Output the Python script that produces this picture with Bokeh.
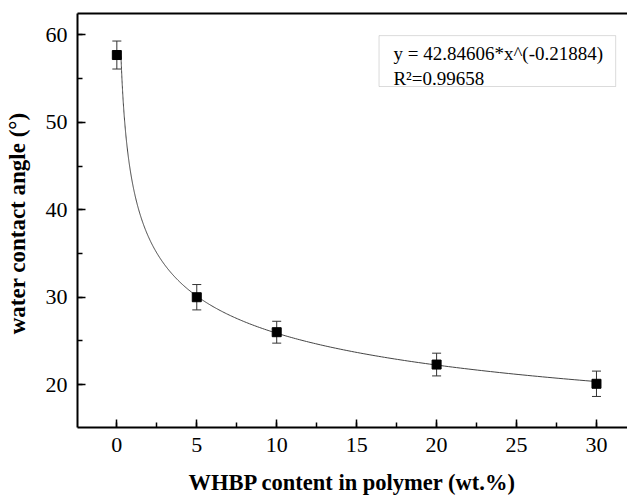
import numpy as np
from bokeh.plotting import figure
from bokeh.models import (ColumnDataSource, Whisker, TeeHead, LinearAxis, FixedTicker,
                          Range1d, BoxAnnotation, Label, SingleIntervalTicker)
from bokeh.embed import file_html
from bokeh.resources import INLINE

# ---- data ----
content = [0, 5, 10, 20, 30]             # WHBP content (wt.%)
angle = [57.7, 30.0, 26.0, 22.3, 20.1]   # water contact angle (deg)
err = [1.6, 1.45, 1.25, 1.3, 1.45]       # error bar half-heights
fit_a = 42.84606                          # fit: y = a * x^b
fit_b = -0.21884
fit_r2 = "0.99658"
fit_x_start = 0.26
fit_x_end = 30
x_ticks = [0, 5, 10, 15, 20, 25, 30]
y_ticks = [20, 30, 40, 50, 60]

FONT = "Liberation Serif"

src = ColumnDataSource(dict(
    x=content, y=angle,
    upper=[a + e for a, e in zip(angle, err)],
    lower=[a - e for a, e in zip(angle, err)],
))

xs = np.geomspace(fit_x_start, fit_x_end, 400)
fit_src = ColumnDataSource(dict(x=xs, y=fit_a * xs ** fit_b))

p = figure(width=627, height=498, output_backend="svg", toolbar_location=None,
           x_range=Range1d(-2.46, 31.94), y_range=Range1d(15.1, 62.45),
           min_border_left=77, min_border_right=0, min_border_top=13, min_border_bottom=71,
           x_axis_label="WHBP content in polymer (wt.%)",
           y_axis_label="water contact angle  (°)")
p.outline_line_color = None
p.grid.visible = False
p.background_fill_color = "white"
p.border_fill_color = "white"

for ax in (p.xaxis[0], p.yaxis[0]):
    ax.axis_line_width = 2
    ax.axis_line_color = "black"
    ax.major_tick_out = 0
    ax.major_tick_in = 8
    ax.minor_tick_out = 0
    ax.minor_tick_in = 5
    ax.major_tick_line_width = 1.5
    ax.minor_tick_line_width = 1.5
    ax.major_label_text_font = FONT
    ax.major_label_text_font_size = "22px"
    ax.major_label_text_color = "black"
    ax.axis_label_text_font = FONT
    ax.axis_label_text_font_style = "bold"
    ax.axis_label_text_color = "black"

p.xaxis[0].axis_label_text_font_size = "22.5px"
p.yaxis[0].axis_label_text_font_size = "23px"
p.xaxis[0].ticker = SingleIntervalTicker(interval=5, num_minor_ticks=2)
p.yaxis[0].ticker = SingleIntervalTicker(interval=10, num_minor_ticks=2)
p.xaxis[0].major_label_standoff = 10
p.xaxis[0].axis_label_standoff = 15
p.yaxis[0].major_label_standoff = 10
p.yaxis[0].axis_label_standoff = 13

top_axis = LinearAxis(ticker=FixedTicker(ticks=[]), axis_line_width=2,
                      major_tick_in=0, major_tick_out=0, minor_tick_in=0, minor_tick_out=0,
                      major_label_text_font_size="0px", major_label_standoff=0)
p.add_layout(top_axis, "above")

p.line("x", "y", source=fit_src, line_color="#444444", line_width=1)

w = Whisker(source=src, base="x", upper="upper", lower="lower",
            line_color="#333333", line_width=1,
            upper_head=TeeHead(size=9, line_color="#333333", line_width=1),
            lower_head=TeeHead(size=9, line_color="#333333", line_width=1))
w.level = "underlay"
p.add_layout(w)

p.scatter("x", "y", source=src, marker="square", size=9, fill_color="black", line_color="black")

box = BoxAnnotation(left=16.4, right=31.2, top=59.92, bottom=54.1,
                    fill_color="white", fill_alpha=1, line_color="#888888", line_width=1)
p.add_layout(box)
p.add_layout(Label(x=17.3, y=57.9, text=f"y = {fit_a}*x^({fit_b})", text_font=FONT,
                   text_font_size="19px", text_baseline="middle", text_color="black"))
p.add_layout(Label(x=17.3, y=55.05, text=f"R²={fit_r2}", text_font=FONT,
                   text_font_size="19px", text_baseline="middle", text_color="black"))

open("out.html", "w").write(file_html(p, INLINE))
